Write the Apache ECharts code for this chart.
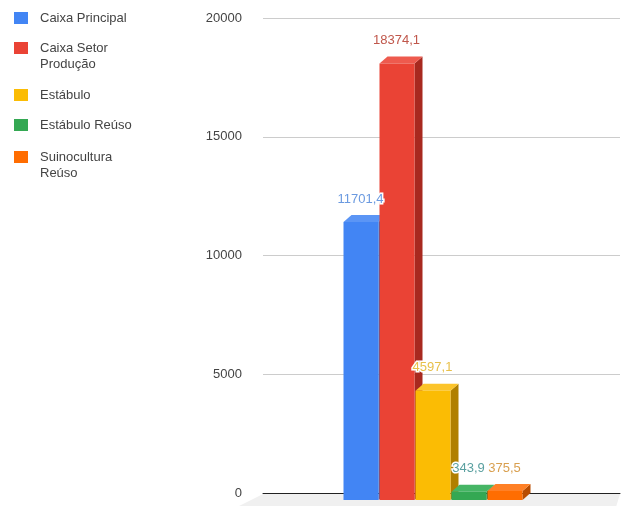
<!DOCTYPE html>
<html><head><meta charset="utf-8">
<script src="https://cdn.jsdelivr.net/npm/echarts@6/dist/echarts.min.js"></script>
<style>html,body{margin:0;padding:0;background:#fff}#c{width:628px;height:506px}</style>
</head><body><div id="c"></div>
<script>
const seriesNames = ['Caixa Principal', 'Caixa Setor\nProdução', 'Estábulo', 'Estábulo Reúso', 'Suinocultura\nReúso'];
const seriesValues = [11701.4, 18374.1, 4597.1, 343.9, 375.5];
const yTicks = [0, 5000, 10000, 15000, 20000];
const colors = ['#4285F4', '#EA4335', '#FBBC04', '#34A853', '#FF6D01'];
const sideColors = ['#2c5fb8', '#a8291f', '#b07f00', '#21733a', '#b84c00'];
const topColors = ['#5b95f5', '#ee5a4e', '#fcc42a', '#46b565', '#ff8026'];
const labelColors = ['#6b9ae0', '#c0574b', '#e8c04a', '#5aa0a0', '#d9a050'];
const legendCenters = [18, 48, 95, 125, 157];

const BW = 36, DX = 8, DY = 7, N = seriesValues.length;
const FONT = '"Liberation Sans", Arial, sans-serif';
function fmt(v){ return v.toFixed(1).replace('.', ','); }
function frontLeft(baseX, idx){ return baseX - (N * BW) / 2 - DX + idx * BW; }

const chart = echarts.init(document.getElementById('c'));

const floorSeries = {
  name: '_floor', type: 'custom', z: 1, silent: true,
  data: [[0, 0]],
  renderItem: function (params, api) {
    const cs = params.coordSys;
    const by = api.coord([0, 0])[1];
    return { type: 'polygon', shape: { points: [[cs.x, by + 1], [cs.x + cs.width, by + 1], [cs.x + cs.width - 4, by + 14], [cs.x - 26, by + 14]] }, style: { fill: '#f0f0f0' } };
  }
};

const barSeries = seriesNames.map((name, i) => ({
  name: name,
  type: 'custom', z: 2,
  itemStyle: { color: colors[i] },
  data: [[0, seriesValues[i]]],
  renderItem: function (params, api) {
    const idx = params.seriesIndex - 1;
    const base = api.coord([0, 0]);
    const top = api.coord([0, api.value(1)]);
    const fl = frontLeft(base[0], idx);
    const fr = fl + BW - 1;
    const fb = base[1] + DY;
    const ft = top[1] + DY;
    return {
      type: 'group',
      children: [
        { type: 'polygon', shape: { points: [[fr, ft], [fr + DX, ft - DY], [fr + DX, fb - DY], [fr, fb]] }, style: { fill: sideColors[idx] } },
        { type: 'polygon', shape: { points: [[fl, ft], [fr, ft], [fr + DX, ft - DY], [fl + DX, ft - DY]] }, style: { fill: topColors[idx] } },
        { type: 'rect', shape: { x: fl, y: ft, width: fr - fl, height: fb - ft }, style: { fill: colors[idx] } }
      ]
    };
  }
}));

const labelSeries = {
  name: '_labels', type: 'custom', z: 5, silent: true,
  data: seriesValues.map((v, i) => [0, v, i]),
  renderItem: function (params, api) {
    const idx = api.value(2);
    const base = api.coord([0, 0]);
    const top = api.coord([0, api.value(1)]);
    const fl = frontLeft(base[0], idx);
    return { type: 'text', style: { text: fmt(seriesValues[idx]), x: fl + BW / 2 - 1, y: top[1] - 16, align: 'center', verticalAlign: 'middle', fill: labelColors[idx], font: '13px ' + FONT, stroke: '#fff', lineWidth: 3 } };
  }
};

const legends = seriesNames.map((name, i) => {
  const twoLine = name.indexOf('\n') >= 0;
  return {
    orient: 'vertical', left: 14, top: legendCenters[i] - 8, padding: 0,
    icon: twoLine ? 'path://M0,0L14,0L14,12L0,12Z M0,28L14,28' : 'rect',
    itemWidth: 14, itemHeight: twoLine ? 28 : 12,
    textStyle: { color: '#444', fontSize: 13, lineHeight: 16, fontFamily: FONT, padding: [0, 0, 0, 7] },
    data: [name]
  };
});

chart.setOption({
  animation: false,
  legend: legends,
  grid: { left: 263, right: 8, top: 18, bottom: 13 },
  xAxis: {
    type: 'category', data: [''],
    axisLine: { show: true, lineStyle: { color: '#222', width: 1 } },
    axisTick: { show: false }, axisLabel: { show: false }
  },
  yAxis: {
    type: 'value', min: yTicks[0], max: yTicks[yTicks.length - 1], interval: 5000,
    axisLine: { show: false }, axisTick: { show: false },
    axisLabel: { margin: 21, color: '#444', fontSize: 13, fontFamily: FONT, formatter: v => String(v) },
    splitLine: { lineStyle: { color: '#ccc' } }
  },
  series: [floorSeries].concat(barSeries, [labelSeries])
});
</script></body></html>
